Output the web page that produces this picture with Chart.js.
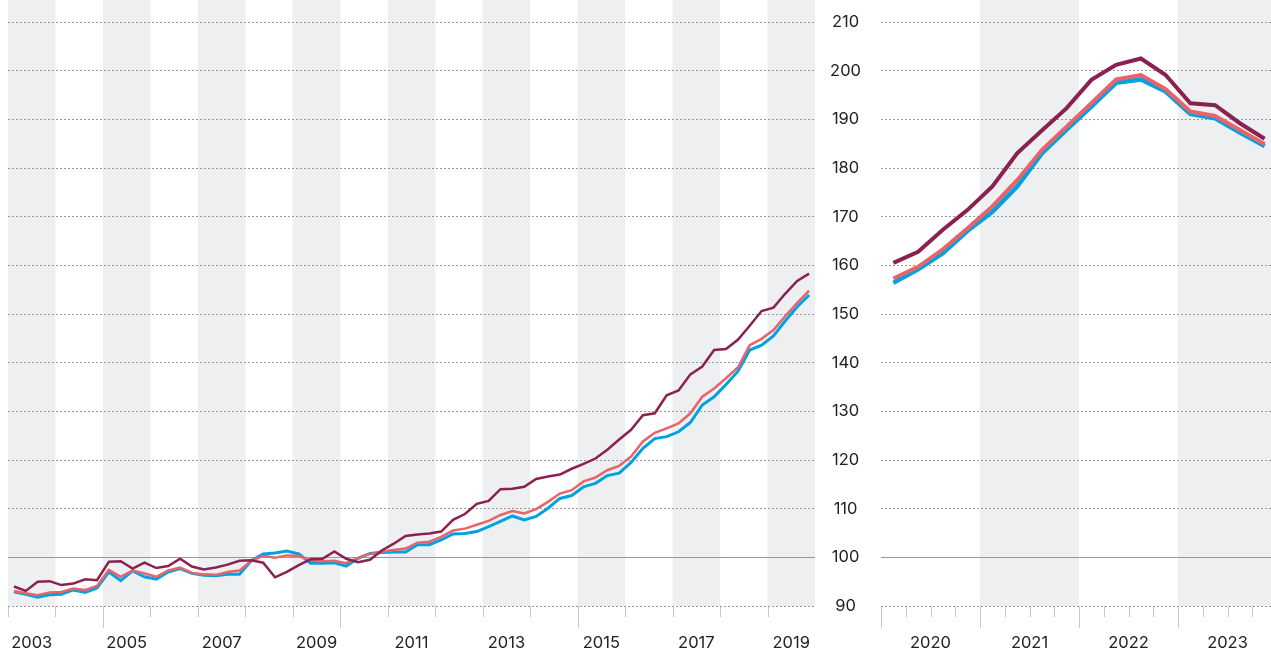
<!DOCTYPE html>
<html>
<head>
<meta charset="utf-8">
<script src="https://cdn.jsdelivr.net/npm/chart.js@4.4.1/dist/chart.umd.min.js"></script>
<style>
  html, body { margin: 0; padding: 0; background: #fff; overflow: hidden; width: 1271px; height: 650px; }
  #left { position: absolute; left: 0; top: 0; }
  #right { position: absolute; left: 815px; top: 0; }
</style>
</head>
<body>
<canvas id="left" width="815" height="650"></canvas>
<canvas id="right" width="462" height="650"></canvas>
<script>
// left panel: quarterly, 2003 Q1 - 2019 Q4
const leftStart = 2003;
const leftLabelYears = [2003, 2005, 2007, 2009, 2011, 2013, 2015, 2017, 2019];
const leftShadedYears = [2003, 2005, 2007, 2009, 2011, 2013, 2015, 2017, 2019];
const leftTickMarks = [2003, 2004, 2005, 2006, 2007, 2008, 2009, 2010, 2011, 2012, 2013, 2014, 2015, 2016, 2017, 2018, 2019, 2020];
const leftLongTicks = [2005, 2010, 2015];

const leftMaroon = [
  94.0, 93.1, 95.0, 95.1, 94.3, 94.6, 95.5, 95.3,
  99.1, 99.2, 97.7, 98.9, 97.8, 98.2, 99.7, 98.1,
  97.5, 97.9, 98.5, 99.3, 99.4, 98.9, 95.9, 97.0,
  98.4, 99.6, 99.7, 101.2, 99.7, 99.0, 99.5, 101.4,
  102.8, 104.4, 104.7, 104.9, 105.3, 107.7, 108.9, 111.0,
  111.6, 114.0, 114.1, 114.5, 116.1, 116.6, 117.0, 118.2,
  119.2, 120.3, 122.1, 124.2, 126.2, 129.2, 129.6, 133.3,
  134.3, 137.6, 139.2, 142.6, 142.8, 144.7, 147.6, 150.6,
  151.3, 154.2, 156.8, 158.3
];
const leftPink = [
  93.1, 92.6, 92.2, 92.8, 92.9, 93.6, 93.3, 94.1,
  97.4, 96.0, 97.3, 96.7, 96.0, 97.3, 97.9, 96.8,
  96.5, 96.4, 97.0, 97.3, 99.3, 100.3, 99.9, 100.4,
  100.3, 99.3, 99.2, 99.3, 98.8, 99.9, 100.7, 101.2,
  101.5, 101.8, 103.0, 103.2, 104.2, 105.5, 105.9, 106.7,
  107.5, 108.7, 109.5, 109.0, 109.9, 111.4, 113.1, 113.8,
  115.6, 116.4, 117.9, 118.8, 120.7, 123.8, 125.6, 126.5,
  127.5, 129.6, 133.0, 134.7, 136.8, 139.0, 143.6, 144.9,
  146.7, 149.6, 152.3, 154.8
];
const leftBlue = [
  92.9, 92.4, 91.8, 92.3, 92.4, 93.3, 92.8, 93.7,
  97.0, 95.2, 97.2, 96.0, 95.5, 97.0, 97.7, 96.7,
  96.3, 96.2, 96.5, 96.5, 99.3, 100.7, 100.9, 101.3,
  100.7, 98.8, 98.8, 98.9, 98.2, 99.8, 100.8, 101.0,
  101.1, 101.1, 102.6, 102.6, 103.6, 104.8, 104.9, 105.3,
  106.3, 107.4, 108.5, 107.7, 108.4, 110.1, 112.1, 112.7,
  114.5, 115.2, 116.8, 117.3, 119.5, 122.4, 124.4, 124.8,
  125.8, 127.7, 131.3, 133.0, 135.5, 138.2, 142.6, 143.6,
  145.5, 148.6, 151.5, 153.9
];

// right panel: quarterly, 2020 Q1 - 2023 Q4
const rightStart = 2020;
const rightLabelYears = [2020, 2021, 2022, 2023];
const rightShadedYears = [2021, 2023];
const rightTickMarks = [
  2020, 2020.25, 2020.5, 2020.75, 2021, 2021.25, 2021.5, 2021.75,
  2022, 2022.25, 2022.5, 2022.75, 2023, 2023.25, 2023.5, 2023.75, 2024
];
const rightLongTicks = [2020, 2021, 2022, 2023, 2024];

const rightMaroon = [160.5, 162.8, 167.3, 171.4, 176.2, 183.0, 187.7, 192.3, 198.1, 201.2, 202.5, 199.1, 193.3, 192.9, 189.2, 186.0];
const rightPink = [157.3, 159.7, 163.3, 167.6, 172.1, 177.5, 183.7, 188.5, 193.3, 198.2, 199.1, 196.2, 191.6, 190.7, 187.8, 184.9];
const rightBlue = [156.4, 159.2, 162.5, 167.1, 171.0, 176.2, 183.0, 187.9, 192.6, 197.5, 198.2, 195.7, 191.1, 190.2, 187.3, 184.5];

const yTicks = [90, 100, 110, 120, 130, 140, 150, 160, 170, 180, 190, 200, 210];
const baseline = 100;

const MAROON = '#8a2150';
const PINK = '#e8636a';
const BLUE = '#00a3e0';
const FONT = { family: 'Inter', size: 16.5 };

function toPoints(startYear, values) {
  // quarter i sits in the middle of its quarter
  return values.map((v, i) => ({ x: startYear + (i + 0.5) / 4, y: v }));
}

// shaded year bands + tick marks below the axis
const yearBands = {
  id: 'yearBands',
  beforeDraw(chart, args, opts) {
    const { ctx, chartArea } = chart;
    const x = chart.scales.x;
    ctx.save();
    ctx.fillStyle = '#eeeff1';
    opts.shaded.forEach(yr => {
      const x0 = Math.max(x.getPixelForValue(yr), chartArea.left);
      const x1 = Math.min(x.getPixelForValue(yr + 1), chartArea.right);
      ctx.fillRect(x0, 0, x1 - x0, chartArea.bottom);
    });
    ctx.strokeStyle = '#c8c8c8';
    ctx.lineWidth = 1;
    ctx.beginPath();
    opts.ticks.forEach(v => {
      const px = Math.round(x.getPixelForValue(v)) + 0.5;
      const len = opts.longTicks.includes(v) ? 22 : 11;
      ctx.moveTo(px, chartArea.bottom);
      ctx.lineTo(px, chartArea.bottom + len);
    });
    ctx.stroke();
    ctx.restore();
  },
  beforeDatasetsDraw(chart) {
    // solid line at 100
    const { ctx, chartArea } = chart;
    const py = Math.round(chart.scales.y.getPixelForValue(baseline)) + 0.5;
    ctx.save();
    ctx.strokeStyle = '#9a9a9a';
    ctx.lineWidth = 1;
    ctx.beginPath();
    ctx.moveTo(chartArea.left, py);
    ctx.lineTo(chartArea.right, py);
    ctx.stroke();
    ctx.restore();
  }
};

function makeChart(id, cfg) {
  const ctx = document.getElementById(id).getContext('2d');
  return new Chart(ctx, {
    type: 'line',
    data: {
      datasets: [
        { data: toPoints(cfg.start, cfg.maroon), borderColor: MAROON, borderWidth: cfg.width },
        { data: toPoints(cfg.start, cfg.pink), borderColor: PINK, borderWidth: cfg.width },
        { data: toPoints(cfg.start, cfg.blue), borderColor: BLUE, borderWidth: cfg.width + 0.5 }
      ]
    },
    options: {
      responsive: false,
      animation: false,
      layout: { padding: { left: cfg.padLeft, right: 0, top: 22, bottom: 0 } },
      elements: { point: { radius: 0 }, line: { tension: 0, borderJoinStyle: 'miter' } },
      plugins: {
        legend: { display: false },
        tooltip: { enabled: false },
        yearBands: { shaded: cfg.shaded, ticks: cfg.tickMarks, longTicks: cfg.longTicks }
      },
      scales: {
        x: {
          type: 'linear',
          min: cfg.start,
          max: cfg.end,
          grid: { display: false },
          border: { display: false },
          afterBuildTicks: s => { s.ticks = cfg.labelYears.map(y => ({ value: y + 0.5 })); },
          afterFit: s => { s.height = 44; s.paddingLeft = 0; s.paddingRight = 0; },
          ticks: {
            autoSkip: false,
            maxRotation: 0,
            padding: 19,
            color: '#222',
            font: FONT,
            callback: v => String(Math.floor(v))
          }
        },
        y: {
          min: 90,
          max: 210,
          afterBuildTicks: s => { s.ticks = yTicks.map(v => ({ value: v })); },
          afterFit: s => { s.width = cfg.axisWidth; s.paddingTop = 0; s.paddingBottom = 0; },
          grid: { color: '#9a9a9a', lineWidth: 1, drawTicks: false },
          border: { display: false, dash: [2, 2] },
          ticks: {
            display: cfg.showY,
            crossAlign: 'center',
            padding: 20,
            color: '#222',
            font: FONT
          }
        }
      }
    },
    plugins: [yearBands]
  });
}

makeChart('left', {
  start: leftStart, end: 2020, maroon: leftMaroon, pink: leftPink, blue: leftBlue,
  labelYears: leftLabelYears, shaded: leftShadedYears, tickMarks: leftTickMarks, longTicks: leftLongTicks,
  width: 2.5, padLeft: 8, axisWidth: 0, showY: false
});

makeChart('right', {
  start: rightStart, end: 2024, maroon: rightMaroon, pink: rightPink, blue: rightBlue,
  labelYears: rightLabelYears, shaded: rightShadedYears, tickMarks: rightTickMarks, longTicks: rightLongTicks,
  width: 4, padLeft: 0, axisWidth: 66, showY: true
});
</script>
</body>
</html>
